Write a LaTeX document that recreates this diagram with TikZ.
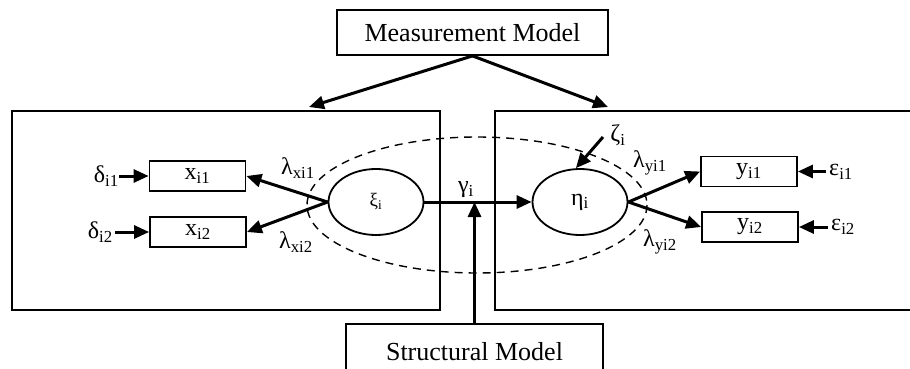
\documentclass[tikz,border=0pt]{standalone}
\usepackage{fontspec}
\setmainfont{Liberation Serif}
\usetikzlibrary{arrows.meta,shapes.geometric}

\newcommand{\sub}[1]{\textsubscript{#1}}

\tikzset{
  model/.style={draw, line width=1.8pt, inner sep=0pt, font=\fontsize{26}{30}\selectfont},
  obsbox/.style={draw, line width=1.8pt, inner sep=0pt, minimum width=96pt, minimum height=30pt, font=\fontsize{24}{28}\selectfont},
  latent/.style={draw, ellipse, line width=1.8pt, inner sep=0pt, minimum width=95pt, minimum height=66pt, font=\fontsize{24}{28}\selectfont},
  lab/.style={inner sep=0pt, font=\fontsize{24}{28}\selectfont},
  link/.style={-{Triangle[length=15pt,width=13pt]}, line width=3pt}
}

\begin{document}
\begin{tikzpicture}[x=1pt,y=-1pt]
	\useasboundingbox (0,0) rectangle (910,369);
	% the two measurement parts and the structural part
	\draw[line width=1.8pt] (12,111) rectangle (440,310);
	\draw[line width=1.8pt] (495,111) rectangle (918,310);
	\draw[line width=1.4pt, dash pattern=on 8pt off 6pt] (477,205) ellipse [x radius=170, y radius=68];

	\node[model, minimum width=271pt, minimum height=45pt] (meas) at (472.5,32.5) {Measurement Model};
	\node[model, minimum width=257pt, minimum height=56pt] (struct) at (474.5,352) {Structural Model};
	\coordinate (lefttip) at (309,107);
	\coordinate (righttip) at (608,107);
	\draw[link] (meas.south) -- (lefttip);
	\draw[link] (meas.south) -- (righttip);

	% latent variables
	\node[latent] (xi) at (376,202) {\fontsize{19}{21}\selectfont ξ\sub{i}};
	\node[latent] (eta) at (580,202) {η\sub{i}};

	% indicators
	\node[obsbox] (x1) at (197.5,176) {x\sub{i1}};
	\node[obsbox] (x2) at (198,232) {x\sub{i2}};
	\node[obsbox] (y1) at (749,171.5) {y\sub{i1}};
	\node[obsbox] (y2) at (750,227) {y\sub{i2}};

	% error terms
	\node[lab, anchor=east] (d1) at (119,176) {δ\sub{i1}};
	\node[lab, anchor=east, inner xsep=2pt] (d2) at (115,232) {δ\sub{i2}};
	\node[lab, anchor=west, inner xsep=3pt] (e1) at (826,171.5) {ε\sub{i1}};
	\node[lab, anchor=west, inner xsep=3pt] (e2) at (828,227) {ε\sub{i2}};
	\node[lab] (zeta) at (618,135) {ζ\sub{i}};
	\coordinate (zetatail) at (603,137);

	\draw[link] (d1.east) -- (x1.west);
	\draw[link] (d2.east) -- (x2.west);
	\draw[link] (e1.west) -- (y1.east);
	\draw[link] (e2.west) -- (y2.east);
	\draw[link] (zetatail) -- (eta.97);

	% loadings and path
	\draw[link] (xi.west) -- (x1.east);
	\draw[link] (xi.west) -- (x2.east);
	\draw[link] (eta.east) -- (y1.west);
	\draw[link] (eta.east) -- (y2.west);
	\draw[link] (xi.east) -- (eta.west);
	\draw[link] (struct.north) -- (struct.north |- xi.east);

	\node[lab] (lx1) at (298,168) {λ\sub{xi1}};
	\node[lab] (lx2) at (296,242) {λ\sub{xi2}};
	\node[lab] (ly1) at (650,163) {λ\sub{yi1}};
	\node[lab] (ly2) at (660,242) {λ\sub{yi2}};
	\node[lab] (gamma) at (466,190) {γ\sub{i}};
\end{tikzpicture}
\end{document}
